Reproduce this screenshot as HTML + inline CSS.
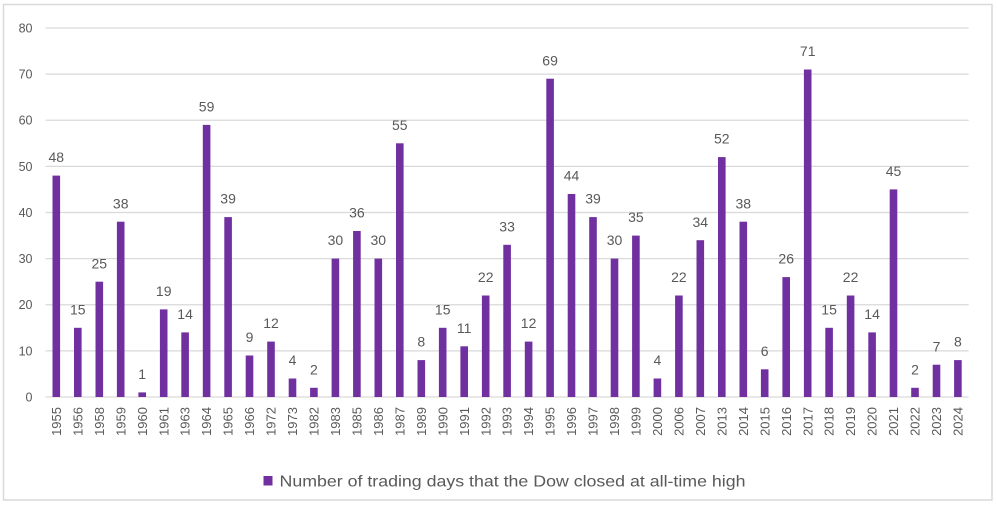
<!DOCTYPE html>
<html><head><meta charset="utf-8"><style>
html,body{margin:0;padding:0;background:#fff;}
svg{display:block;}
text{font-family:"Liberation Sans",sans-serif;fill:#595959;}
</style></head><body>
<svg width="997" height="505" viewBox="0 0 997 505" xmlns="http://www.w3.org/2000/svg">
<rect x="0" y="0" width="997" height="505" fill="#fff"/>
<rect x="3.5" y="4.5" width="988.5" height="495.5" fill="none" stroke="#d9d9d9" stroke-width="1.5"/>
<g stroke="#d9d9d9" stroke-width="1.2">
<line x1="45.6" x2="968.7" y1="28" y2="28"/>
<line x1="45.6" x2="968.7" y1="74.1" y2="74.1"/>
<line x1="45.6" x2="968.7" y1="120.25" y2="120.25"/>
<line x1="45.6" x2="968.7" y1="166.4" y2="166.4"/>
<line x1="45.6" x2="968.7" y1="212.5" y2="212.5"/>
<line x1="45.6" x2="968.7" y1="258.6" y2="258.6"/>
<line x1="45.6" x2="968.7" y1="304.75" y2="304.75"/>
<line x1="45.6" x2="968.7" y1="350.9" y2="350.9"/>
<line x1="45.6" x2="968.7" y1="397" y2="397"/>
</g>
<g font-size="12.5" text-anchor="end">
<text x="32.5" y="32.5">80</text>
<text x="32.5" y="78.6">70</text>
<text x="32.5" y="124.7">60</text>
<text x="32.5" y="170.9">50</text>
<text x="32.5" y="217">40</text>
<text x="32.5" y="263.1">30</text>
<text x="32.5" y="309.2">20</text>
<text x="32.5" y="355.4">10</text>
<text x="32.5" y="401.5">0</text>
</g>
<g fill="#7030a0">
<rect x="52.5" y="175.6" width="7.6" height="221.4"/>
<rect x="74" y="327.8" width="7.6" height="69.2"/>
<rect x="95.5" y="281.7" width="7.6" height="115.3"/>
<rect x="116.9" y="221.7" width="7.6" height="175.3"/>
<rect x="138.4" y="392.4" width="7.6" height="4.6"/>
<rect x="159.9" y="309.4" width="7.6" height="87.6"/>
<rect x="181.3" y="332.4" width="7.6" height="64.6"/>
<rect x="202.8" y="124.9" width="7.6" height="272.1"/>
<rect x="224.3" y="217.1" width="7.6" height="179.9"/>
<rect x="245.7" y="355.5" width="7.6" height="41.5"/>
<rect x="267.2" y="341.6" width="7.6" height="55.4"/>
<rect x="288.7" y="378.5" width="7.6" height="18.5"/>
<rect x="310.1" y="387.8" width="7.6" height="9.2"/>
<rect x="331.6" y="258.6" width="7.6" height="138.4"/>
<rect x="353.1" y="231" width="7.6" height="166"/>
<rect x="374.5" y="258.6" width="7.6" height="138.4"/>
<rect x="396" y="143.3" width="7.6" height="253.7"/>
<rect x="417.5" y="360.1" width="7.6" height="36.9"/>
<rect x="438.9" y="327.8" width="7.6" height="69.2"/>
<rect x="460.4" y="346.3" width="7.6" height="50.7"/>
<rect x="481.9" y="295.5" width="7.6" height="101.5"/>
<rect x="503.3" y="244.8" width="7.6" height="152.2"/>
<rect x="524.8" y="341.6" width="7.6" height="55.4"/>
<rect x="546.3" y="78.7" width="7.6" height="318.3"/>
<rect x="567.7" y="194" width="7.6" height="203"/>
<rect x="589.2" y="217.1" width="7.6" height="179.9"/>
<rect x="610.7" y="258.6" width="7.6" height="138.4"/>
<rect x="632.1" y="235.6" width="7.6" height="161.4"/>
<rect x="653.6" y="378.5" width="7.6" height="18.5"/>
<rect x="675.1" y="295.5" width="7.6" height="101.5"/>
<rect x="696.5" y="240.2" width="7.6" height="156.8"/>
<rect x="718" y="157.1" width="7.6" height="239.9"/>
<rect x="739.5" y="221.7" width="7.6" height="175.3"/>
<rect x="760.9" y="369.3" width="7.6" height="27.7"/>
<rect x="782.4" y="277.1" width="7.6" height="119.9"/>
<rect x="803.9" y="69.5" width="7.6" height="327.5"/>
<rect x="825.3" y="327.8" width="7.6" height="69.2"/>
<rect x="846.8" y="295.5" width="7.6" height="101.5"/>
<rect x="868.3" y="332.4" width="7.6" height="64.6"/>
<rect x="889.7" y="189.4" width="7.6" height="207.6"/>
<rect x="911.2" y="387.8" width="7.6" height="9.2"/>
<rect x="932.7" y="364.7" width="7.6" height="32.3"/>
<rect x="954.1" y="360.1" width="7.6" height="36.9"/>
</g>
<g font-size="14" text-anchor="middle">
<text x="56.3" y="162.2">48</text>
<text x="77.8" y="314.4">15</text>
<text x="99.3" y="268.3">25</text>
<text x="120.7" y="208.3">38</text>
<text x="142.2" y="379">1</text>
<text x="163.7" y="296">19</text>
<text x="185.1" y="319">14</text>
<text x="206.6" y="111.5">59</text>
<text x="228.1" y="203.7">39</text>
<text x="249.5" y="342.1">9</text>
<text x="271" y="328.2">12</text>
<text x="292.5" y="365.1">4</text>
<text x="313.9" y="374.4">2</text>
<text x="335.4" y="245.2">30</text>
<text x="356.9" y="217.6">36</text>
<text x="378.3" y="245.2">30</text>
<text x="399.8" y="129.9">55</text>
<text x="421.3" y="346.7">8</text>
<text x="442.7" y="314.4">15</text>
<text x="464.2" y="332.9">11</text>
<text x="485.7" y="282.1">22</text>
<text x="507.1" y="231.4">33</text>
<text x="528.6" y="328.2">12</text>
<text x="550.1" y="65.3">69</text>
<text x="571.5" y="180.6">44</text>
<text x="593" y="203.7">39</text>
<text x="614.5" y="245.2">30</text>
<text x="635.9" y="222.2">35</text>
<text x="657.4" y="365.1">4</text>
<text x="678.9" y="282.1">22</text>
<text x="700.3" y="226.8">34</text>
<text x="721.8" y="143.7">52</text>
<text x="743.3" y="208.3">38</text>
<text x="764.7" y="355.9">6</text>
<text x="786.2" y="263.7">26</text>
<text x="807.7" y="56.1">71</text>
<text x="829.1" y="314.4">15</text>
<text x="850.6" y="282.1">22</text>
<text x="872.1" y="319">14</text>
<text x="893.5" y="176">45</text>
<text x="915" y="374.4">2</text>
<text x="936.5" y="351.3">7</text>
<text x="957.9" y="346.7">8</text>
</g>
<g font-size="13" text-anchor="end">
<text transform="translate(60.9,407) rotate(-90)">1955</text>
<text transform="translate(82.4,407) rotate(-90)">1956</text>
<text transform="translate(103.9,407) rotate(-90)">1958</text>
<text transform="translate(125.3,407) rotate(-90)">1959</text>
<text transform="translate(146.8,407) rotate(-90)">1960</text>
<text transform="translate(168.3,407) rotate(-90)">1961</text>
<text transform="translate(189.7,407) rotate(-90)">1963</text>
<text transform="translate(211.2,407) rotate(-90)">1964</text>
<text transform="translate(232.7,407) rotate(-90)">1965</text>
<text transform="translate(254.1,407) rotate(-90)">1966</text>
<text transform="translate(275.6,407) rotate(-90)">1972</text>
<text transform="translate(297.1,407) rotate(-90)">1973</text>
<text transform="translate(318.5,407) rotate(-90)">1982</text>
<text transform="translate(340,407) rotate(-90)">1983</text>
<text transform="translate(361.5,407) rotate(-90)">1985</text>
<text transform="translate(382.9,407) rotate(-90)">1986</text>
<text transform="translate(404.4,407) rotate(-90)">1987</text>
<text transform="translate(425.9,407) rotate(-90)">1989</text>
<text transform="translate(447.3,407) rotate(-90)">1990</text>
<text transform="translate(468.8,407) rotate(-90)">1991</text>
<text transform="translate(490.3,407) rotate(-90)">1992</text>
<text transform="translate(511.7,407) rotate(-90)">1993</text>
<text transform="translate(533.2,407) rotate(-90)">1994</text>
<text transform="translate(554.7,407) rotate(-90)">1995</text>
<text transform="translate(576.1,407) rotate(-90)">1996</text>
<text transform="translate(597.6,407) rotate(-90)">1997</text>
<text transform="translate(619.1,407) rotate(-90)">1998</text>
<text transform="translate(640.5,407) rotate(-90)">1999</text>
<text transform="translate(662,407) rotate(-90)">2000</text>
<text transform="translate(683.5,407) rotate(-90)">2006</text>
<text transform="translate(704.9,407) rotate(-90)">2007</text>
<text transform="translate(726.4,407) rotate(-90)">2013</text>
<text transform="translate(747.9,407) rotate(-90)">2014</text>
<text transform="translate(769.3,407) rotate(-90)">2015</text>
<text transform="translate(790.8,407) rotate(-90)">2016</text>
<text transform="translate(812.3,407) rotate(-90)">2017</text>
<text transform="translate(833.7,407) rotate(-90)">2018</text>
<text transform="translate(855.2,407) rotate(-90)">2019</text>
<text transform="translate(876.7,407) rotate(-90)">2020</text>
<text transform="translate(898.1,407) rotate(-90)">2021</text>
<text transform="translate(919.6,407) rotate(-90)">2022</text>
<text transform="translate(941.1,407) rotate(-90)">2023</text>
<text transform="translate(962.5,407) rotate(-90)">2024</text>
</g>
<rect x="263.5" y="476" width="9" height="9.5" fill="#7030a0"/>
<text x="279.5" y="486.5" font-size="16" textLength="466" lengthAdjust="spacingAndGlyphs">Number of trading days that the Dow closed at all-time high</text>
</svg>
</body></html>
